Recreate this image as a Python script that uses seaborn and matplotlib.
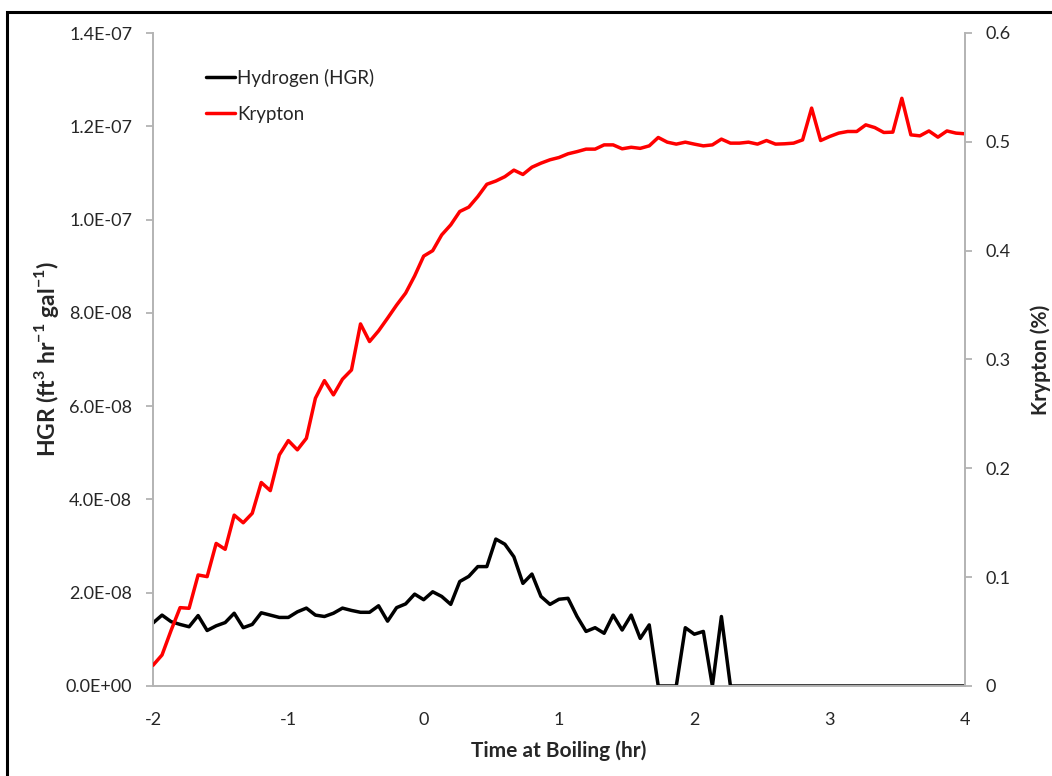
import numpy as np
import pandas as pd
import matplotlib
matplotlib.use("Agg")
import matplotlib.pyplot as plt
from matplotlib.ticker import FuncFormatter, MultipleLocator
from matplotlib.patches import Rectangle
import seaborn as sns

# Sample times (hr), 4-minute sampling from -2 h to +4 h around boiling
time_hr = np.arange(-120, 244, 4) / 60.0

# Hydrogen generation rate, in units of 1e-8 ft^3 hr^-1 gal^-1
hgr_e8 = [
    1.35, 1.52, 1.38, 1.32, 1.27, 1.51, 1.19, 1.29, 1.36, 1.56,
    1.25, 1.32, 1.57, 1.52, 1.47, 1.47, 1.59, 1.67, 1.52, 1.49,
    1.56, 1.67, 1.62, 1.58, 1.58, 1.72, 1.39, 1.68, 1.76, 1.97,
    1.85, 2.02, 1.92, 1.75, 2.24, 2.35, 2.56, 2.56, 3.15, 3.04,
    2.77, 2.20, 2.40, 1.92, 1.75, 1.86, 1.88, 1.49, 1.17, 1.25,
    1.13, 1.52, 1.20, 1.52, 1.02, 1.31, 0.00, 0.00, 0.00, 1.25,
    1.11, 1.17, 0.00, 1.49, 0.00, 0.00, 0.00, 0.00, 0.00, 0.00,
    0.00, 0.00, 0.00, 0.00, 0.00, 0.00, 0.00, 0.00, 0.00, 0.00,
    0.00, 0.00, 0.00, 0.00, 0.00, 0.00, 0.00, 0.00, 0.00, 0.00,
    0.00,
]

# Krypton concentration (%)
krypton_pct = [
    0.019, 0.0285, 0.051, 0.072, 0.0714, 0.102, 0.1005, 0.131, 0.1256, 0.157,
    0.150, 0.1587, 0.187, 0.1795, 0.2123, 0.2255, 0.217, 0.2276, 0.2644, 0.2806,
    0.2675, 0.2819, 0.2904, 0.3327, 0.3165, 0.3263, 0.338, 0.350, 0.361, 0.3768,
    0.395, 0.400, 0.4145, 0.4237, 0.436, 0.440, 0.4497, 0.461, 0.464, 0.468,
    0.474, 0.470, 0.4767, 0.4804, 0.4835, 0.4856, 0.489, 0.491, 0.4933, 0.4933,
    0.4972, 0.4972, 0.4936, 0.495, 0.494, 0.4963, 0.504, 0.4997, 0.4979, 0.4997,
    0.4979, 0.4963, 0.4972, 0.5025, 0.4988, 0.4988, 0.4997, 0.4979, 0.5012, 0.4979,
    0.4982, 0.4988, 0.5018, 0.531, 0.5012, 0.5049, 0.508, 0.5095, 0.5095, 0.5156,
    0.5131, 0.5086, 0.5089, 0.540, 0.5064, 0.5055, 0.510, 0.5043, 0.510, 0.508,
    0.5074,
]

x_ticks = [-2, -1, 0, 1, 2, 3, 4]

df = pd.DataFrame({
    "time": time_hr,
    "hgr": np.array(hgr_e8) * 1e-8,
    "krypton": krypton_pct,
})

sns.set_style("white")
plt.rcParams["font.family"] = ["Lato", "DejaVu Sans"]
plt.rcParams["mathtext.fontset"] = "custom"
plt.rcParams["mathtext.rm"] = "Lato"
plt.rcParams["mathtext.bf"] = "Lato:bold"

spine_gray = "#b3b3b3"
text_col = "#262626"

fig = plt.figure(figsize=(10.52, 7.76), dpi=100)
ax = fig.add_axes([153 / 1052, 1 - 686 / 776, (965 - 153) / 1052, (686 - 33) / 776])
ax2 = ax.twinx()

sns.lineplot(data=df, x="time", y="hgr", ax=ax, color="black", linewidth=2.5,
             label="Hydrogen (HGR)", legend=False)
sns.lineplot(data=df, x="time", y="krypton", ax=ax2, color="#ff0000", linewidth=2.5,
             label="Krypton", legend=False)

ax.set_xlim(-2, 4)
ax.set_ylim(0, 1.4e-7)
ax2.set_ylim(0, 0.6)
ax.set_xticks(x_ticks)
ax.yaxis.set_major_locator(MultipleLocator(2e-8))
ax2.yaxis.set_major_locator(MultipleLocator(0.1))
ax.yaxis.set_major_formatter(FuncFormatter(lambda v, p: f"{v:.1E}"))
ax2.yaxis.set_major_formatter(FuncFormatter(lambda v, p: "0" if abs(v) < 1e-9 else f"{v:.1f}"))
ax.xaxis.set_major_formatter(FuncFormatter(lambda v, p: f"{v:.0f}"))

for a in (ax, ax2):
    for s in a.spines.values():
        s.set_color(spine_gray)
        s.set_linewidth(1.4)
    a.spines["top"].set_visible(False)
    a.tick_params(colors=spine_gray, labelcolor=text_col, labelsize=13,
                  length=5, width=1.3, direction="out", pad=10)
    a.grid(False)
ax.spines["right"].set_visible(False)
ax2.spines["left"].set_visible(False)
ax2.spines["bottom"].set_visible(False)
ax.tick_params(axis="x", pad=14)

ax.set_xlabel("Time at Boiling (hr)", fontsize=15, fontweight="bold", color=text_col, labelpad=9)
ax.set_ylabel(r"HGR (ft$^{\mathbf{3}}$ hr$^{\mathbf{-1}}$ gal$^{\mathbf{-1}}$)",
              fontsize=16.5, fontweight="bold", color=text_col, labelpad=3)
ax2.set_ylabel("Krypton (%)", fontsize=15, fontweight="bold", color=text_col, labelpad=14)

handles = ax.get_lines()[:1] + ax2.get_lines()[:1]
leg = ax2.legend(handles, ["Hydrogen (HGR)", "Krypton"], loc="upper left",
                 bbox_to_anchor=(0.045, 0.971), frameon=False, fontsize=13.5,
                 handlelength=1.55, handletextpad=0.1, labelspacing=1.0)
for t in leg.get_texts():
    t.set_color(text_col)

# Frame around the figure (left and top edges fall inside the canvas)
fig.add_artist(Rectangle((7 / 1052, -0.05), 1.2, 1 - 12 / 776 + 0.05,
                         transform=fig.transFigure, fill=False,
                         edgecolor="black", linewidth=2.2, clip_on=False))

fig.savefig("out.png", dpi=100)
